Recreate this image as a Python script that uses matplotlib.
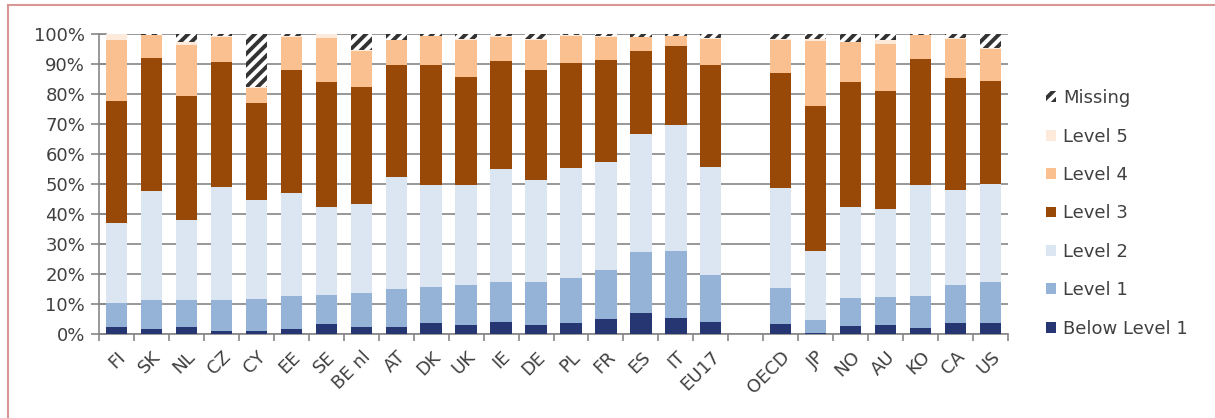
import matplotlib
matplotlib.use("Agg")
import matplotlib.pyplot as plt
from matplotlib.lines import Line2D
import numpy as np

plt.rcParams['font.family'] = ['DejaVu Sans']
plt.rcParams['hatch.linewidth'] = 2.8

countries = ["FI", "SK", "NL", "CZ", "CY", "EE", "SE", "BE nl", "AT", "DK", "UK", "IE",
             "DE", "PL", "FR", "ES", "IT", "EU17", "OECD", "JP", "NO", "AU", "KO", "CA", "US"]

below1 = [2.4, 1.6, 2.2, 1.1, 1.1, 1.8, 3.4, 2.4, 2.2, 3.6, 3.1, 4.1, 3.1, 3.7, 5.1, 7.0, 5.2, 4.1,
          3.2, 0.4, 2.8, 2.9, 1.9, 3.6, 3.7]
level1 = [7.9, 9.7, 9.2, 10.3, 10.6, 11.0, 9.6, 11.4, 12.8, 12.0, 13.1, 13.1, 14.1, 14.9, 16.2, 20.2, 22.4, 15.6,
          12.0, 4.3, 9.2, 9.5, 10.8, 12.6, 13.5]
level2 = [26.7, 36.4, 26.6, 37.7, 33.0, 34.3, 29.2, 29.6, 37.3, 34.0, 33.4, 37.7, 34.0, 36.6, 35.9, 39.4, 42.0, 35.9,
          33.5, 22.9, 30.3, 29.2, 37.1, 31.7, 32.7]
level3 = [40.8, 44.4, 41.4, 41.5, 32.2, 40.8, 41.7, 39.0, 37.3, 40.0, 36.0, 36.0, 36.7, 35.0, 34.1, 27.7, 26.3, 34.2,
          38.2, 48.5, 41.6, 39.4, 41.8, 37.3, 34.3]
level4 = [20.1, 7.5, 16.9, 8.4, 5.1, 11.1, 14.8, 12.0, 8.3, 9.7, 12.4, 8.2, 10.2, 9.1, 7.7, 4.7, 3.3, 8.6,
          11.2, 21.6, 13.3, 15.7, 8.0, 13.0, 10.9]
level5 = [2.1, 0.2, 1.0, 0.3, 0.2, 0.3, 1.2, 0.3, 0.2, 0.2, 0.3, 0.2, 0.2, 0.5, 0.2, 0.1, 0.1, 0.3,
          0.3, 0.7, 0.2, 1.2, 0.1, 0.5, 0.2]
missing = [0.0, 0.2, 2.7, 0.7, 17.8, 0.7, 0.1, 5.3, 1.9, 0.5, 1.7, 0.7, 1.7, 0.2, 0.8, 0.9, 0.7, 1.3,
           1.6, 1.6, 2.6, 2.1, 0.3, 1.3, 4.7]

series = [("Below Level 1", below1, "#263673"),
          ("Level 1", level1, "#95B3D7"),
          ("Level 2", level2, "#DCE6F2"),
          ("Level 3", level3, "#984807"),
          ("Level 4", level4, "#FAC090"),
          ("Level 5", level5, "#FDEADA")]

# one empty slot between EU17 and OECD
slots = np.array(list(range(18)) + list(range(19, 26)))
x = slots + 0.5

fig = plt.figure(figsize=(12.15, 4.18), dpi=100)
ax = fig.add_axes([99 / 1215, 1 - 334 / 418, (1008 - 99) / 1215, 300 / 418])

bottom = np.zeros(len(countries))
handles = []
for name, vals, col in series:
    vals = np.array(vals) / 100
    h = ax.bar(x, vals, 0.61, bottom=bottom, color=col, linewidth=0, label=name, zorder=3)
    handles.append(h)
    bottom += vals
h = ax.bar(x, np.array(missing) / 100, 0.61, bottom=bottom, facecolor="white",
           edgecolor="#333333", hatch="///", linewidth=0, label="Missing", zorder=3)
handles.append(h)

ax.set_xlim(0, 26)
ax.set_ylim(0, 1.0)
ax.set_yticks(np.arange(0, 1.01, 0.1))
ax.set_yticklabels([f"{int(round(v * 100))}%" for v in np.arange(0, 1.01, 0.1)])
ax.yaxis.grid(True, color="#868686", linewidth=1.2, zorder=0)
ax.set_axisbelow(True)

ax.set_xticks(np.arange(0, 27))
ax.set_xticklabels([])
ax.set_xticks(x, minor=True)
ax.set_xticklabels(countries, minor=True, rotation=45, ha="right", va="top",
                   rotation_mode="anchor")
ax.tick_params(axis="x", which="minor", length=0, pad=10, labelsize=13, labelcolor="#404040")
ax.tick_params(axis="x", which="major", length=5, color="#868686", width=1.2)
ax.tick_params(axis="y", direction="inout", length=12, color="#868686", width=1.2, labelsize=13,
               labelcolor="#404040", pad=4)

for s in ["top", "right"]:
    ax.spines[s].set_visible(False)
for s in ["left", "bottom"]:
    ax.spines[s].set_color("#868686")
    ax.spines[s].set_linewidth(1.2)

leg = fig.legend(handles[::-1], [hh.get_label() for hh in handles[::-1]],
                 loc="upper left", bbox_to_anchor=(1039 / 1215, 1 - 82 / 418),
                 frameon=False, fontsize=13, handlelength=0.55, handleheight=0.55,
                 handletextpad=0.4, labelspacing=1.13, borderaxespad=0)
for t in leg.get_texts():
    t.set_color("#404040")

# pink frame of the chart area
fig.add_artist(Line2D([8 / 1215, 8 / 1215], [0, 1 - 5 / 418], color="#D99694", linewidth=1.5))
fig.add_artist(Line2D([8 / 1215, 1], [1 - 5 / 418, 1 - 5 / 418], color="#D99694", linewidth=1.5))

fig.savefig("out.png", dpi=100)
